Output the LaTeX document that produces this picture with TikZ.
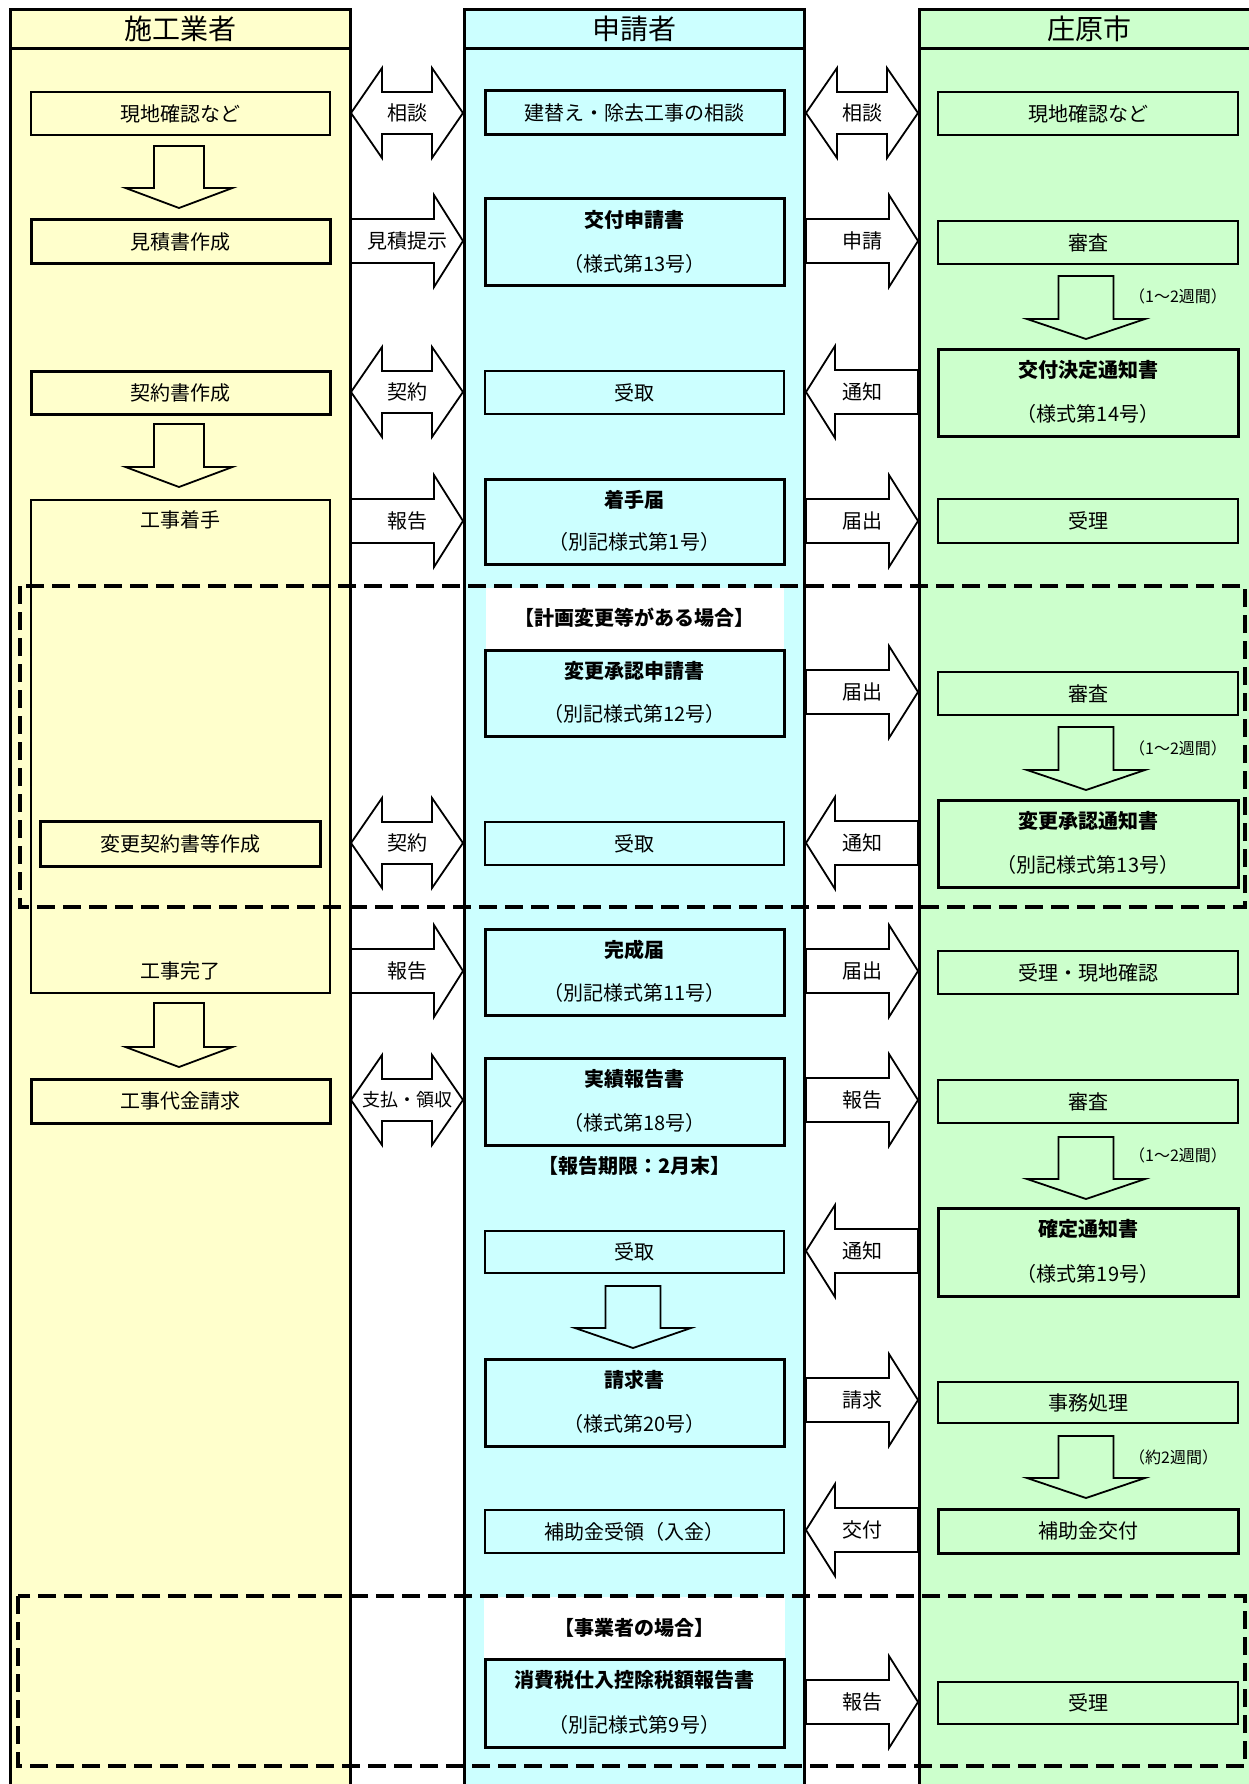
\documentclass[tikz,border=0pt]{standalone}
\usepackage{fontspec}
\setmainfont{Noto Sans CJK JP}
\usetikzlibrary{calc}
\definecolor{ly}{HTML}{FFFFCC}
\definecolor{lc}{HTML}{CCFFFF}
\definecolor{lg}{HTML}{CCFFCC}
\newcommand\fsN{\fontsize{20pt}{24pt}\selectfont}
\newcommand\fsM{\fontsize{18pt}{22pt}\selectfont}
\newcommand\fsH{\fontsize{28pt}{32pt}\selectfont}
\newcommand\fsS{\fontsize{16pt}{19pt}\selectfont}
\tikzset{
  lanebd/.style={line width=3pt},
  thinbox/.style={draw, line width=1.2pt, inner sep=0pt, font=\fsN},
  thickbox/.style={draw, line width=3pt, inner sep=0pt, font=\fsN},
  Lbox/.style={fill=ly, minimum width=299pt},
  Mbox/.style={fill=lc, minimum width=299pt},
  Rbox/.style={fill=lg, minimum width=300pt},
  blk/.style={draw, line width=1.8pt, fill=white, line join=miter},
  dnarr/.style={draw, line width=1.8pt, line join=miter},
  lbl/.style={font=\fsN, inner sep=0pt},
  blbl/.style={font=\fsN\bfseries, inner sep=0pt},
  dashbox/.style={line width=4.5pt, dash pattern=on 18pt off 8pt},
}
% right-pointing block arrow: name, xa, xb, y, label
\newcommand\rarrow[5]{%
  \draw[blk] (#2,#4-22) -- (#3-29,#4-22) -- (#3-29,#4-46) -- (#3,#4) -- (#3-29,#4+46) -- (#3-29,#4+22) -- (#2,#4+22) -- cycle;
  \node[lbl] (#1) at ({(#2+#3)/2},#4) {#5};}
% left-pointing block arrow
\newcommand\larrow[5]{%
  \draw[blk] (#3,#4-22) -- (#2+29,#4-22) -- (#2+29,#4-46) -- (#2,#4) -- (#2+29,#4+46) -- (#2+29,#4+22) -- (#3,#4+22) -- cycle;
  \node[lbl] (#1) at ({(#2+#3)/2},#4) {#5};}
% double block arrow
\newcommand\darrow[6]{%
  \draw[blk] (#2,#4) -- (#2+31,#4-45) -- (#2+31,#4-21) -- (#3-31,#4-21) -- (#3-31,#4-45) -- (#3,#4) -- (#3-31,#4+45) -- (#3-31,#4+21) -- (#2+31,#4+21) -- (#2+31,#4+45) -- cycle;
  \node[lbl,#6] (#1) at ({(#2+#3)/2},#4) {#5};}
% down arrow: xc, ytop, ytip, shaft half, head half
\newcommand\dnarrow[5]{%
  \draw[dnarr] (#1-#4,#2) -- (#1+#4,#2) -- (#1+#4,#3-20) -- (#1+#5,#3-20) -- (#1,#3) -- (#1-#5,#3-20) -- (#1-#4,#3-20) -- cycle;}
% two-line labels in a box
\newcommand\twoline[4]{%
  \node[blbl] (#1a) at ([yshift=-22.5pt]#2.north) {#3};
  \node[lbl] (#1b) at ([yshift=24pt]#2.south) {#4};}
\begin{document}
\begin{tikzpicture}[x=1pt,y=-1pt]
\useasboundingbox (0,0) rectangle (1249,1784);
\clip (0,0) rectangle (1249,1784);
\fill[white] (0,0) rectangle (1249,1784);
% lanes
\fill[ly] (10,10) rectangle (350,1800);
\fill[lc] (464,10) rectangle (804,1800);
\fill[lg] (919,10) rectangle (1259,1800);
\draw[lanebd] (10,1800) -- (10,10) -- (350,10) -- (350,1800);
\draw[lanebd] (10,49) -- (350,49);
\draw[lanebd] (464,1800) -- (464,10) -- (804,10) -- (804,1800);
\draw[lanebd] (464,49) -- (804,49);
\draw[lanebd] (919,1800) -- (919,10) -- (1259,10) -- (1259,1800);
\draw[lanebd] (919,49) -- (1259,49);
\node[font=\fsH, inner sep=0pt] (h1) at (180,29) {施工業者};
\node[font=\fsH, inner sep=0pt] (h2) at (634,29) {申請者};
\node[font=\fsH, inner sep=0pt] (h3) at (1089,29) {庄原市};
% white patches
\fill[white] (486,588) rectangle (784,650);
\fill[white] (484,1597) rectangle (785,1659);

% row 1
\node[thinbox, Lbox, minimum height=43pt] (l1) at (180.5,113.5) {現地確認など};
\node[thickbox, Mbox, minimum height=44pt] (m1) at (634.5,113) {建替え・除去工事の相談};
\node[thinbox, Rbox, minimum height=43pt] (r1) at (1088,113.5) {現地確認など};
\darrow{a1}{351}{463}{113}{相談}{}
\darrow{b1}{806}{918}{113}{相談}{}
\dnarrow{179}{146}{208}{25}{53.5}
% row 2
\node[thickbox, Lbox, minimum height=44pt] (l2) at (180.5,242) {見積書作成};
\node[thickbox, Mbox, minimum height=87pt] (m2) at (634.5,242.5) {};
\twoline{m2t}{m2}{交付申請書}{（様式第13号）}
\node[thinbox, Rbox, minimum height=43pt] (r2) at (1088,242.5) {審査};
\rarrow{a2}{351}{463}{241}{見積提示}
\rarrow{b2}{806}{918}{241}{申請}
\dnarrow{1086}{276}{339}{27.5}{59}
\node[font=\fsS, inner sep=0pt, anchor=west] (w1) at (1129,296) {（1～2週間）};
% row 3
\node[thickbox, Rbox, minimum height=87pt] (r3) at (1088,392.5) {};
\twoline{r3t}{r3}{交付決定通知書}{（様式第14号）}
\node[thickbox, Lbox, minimum height=43pt] (l3) at (180.5,392.5) {契約書作成};
\node[thinbox, Mbox, minimum height=43pt] (m3) at (634.5,392.5) {受取};
\darrow{a3}{351}{463}{392}{契約}{}
\larrow{b3}{806}{918}{392}{通知}
\dnarrow{179}{424}{487}{25}{53.5}
% row 4
\node[thinbox, Lbox, minimum height=493pt] (lt) at (180.5,746.5) {};
\node[lbl] (lt1) at (180.5,520) {工事着手};
\node[lbl] (lt2) at (180.5,971) {工事完了};
\node[thickbox, Mbox, minimum height=85pt] (m4) at (634.5,521.5) {};
\twoline{m4t}{m4}{着手届}{（別記様式第1号）}
\node[thinbox, Rbox, minimum height=44pt] (r4) at (1088,521) {受理};
\rarrow{a4}{351}{463}{521}{報告}
\rarrow{b4}{806}{918}{521}{届出}
% row 5
\node[blbl] (n5) at (634.5,618) {【計画変更等がある場合】};
\node[thickbox, Mbox, minimum height=86pt] (m5) at (634.5,693) {};
\twoline{m5t}{m5}{変更承認申請書}{（別記様式第12号）}
\node[thinbox, Rbox, minimum height=43pt] (r5) at (1088,693.5) {審査};
\rarrow{b5}{806}{918}{692}{届出}
\dnarrow{1086}{727}{790}{27.5}{59}
\node[font=\fsS, inner sep=0pt, anchor=west] (w2) at (1129,748) {（1～2週間）};
% row 6
\node[thickbox, fill=ly, minimum width=280pt, minimum height=45pt] (l6) at (180,843.5) {変更契約書等作成};
\node[thinbox, Mbox, minimum height=43pt] (m6) at (634.5,843.5) {受取};
\node[thickbox, Rbox, minimum height=87pt] (r6) at (1088,843.5) {};
\twoline{r6t}{r6}{変更承認通知書}{（別記様式第13号）}
\darrow{a6}{351}{463}{843}{契約}{}
\larrow{b6}{806}{918}{843}{通知}
% row 7
\node[thickbox, Mbox, minimum height=86pt] (m7) at (634.5,972) {};
\twoline{m7t}{m7}{完成届}{（別記様式第11号）}
\node[thinbox, Rbox, minimum height=43pt] (r7) at (1088,972.5) {受理・現地確認};
\rarrow{a7}{351}{463}{971}{報告}
\rarrow{b7}{806}{918}{971}{届出}
\dnarrow{179}{1003}{1067}{25}{53.5}
% row 8
\node[thickbox, Lbox, minimum height=44pt] (l8) at (180.5,1101) {工事代金請求};
\node[thickbox, Mbox, minimum height=87pt] (m8) at (634.5,1101.5) {};
\twoline{m8t}{m8}{実績報告書}{（様式第18号）}
\node[blbl] (n8) at (634.5,1166) {【報告期限：2月末】};
\node[thinbox, Rbox, minimum height=43pt] (r8) at (1088,1101.5) {審査};
\darrow{a8}{351}{463}{1100}{支払・領収}{font=\fsM}
\rarrow{b8}{806}{918}{1100}{報告}
\dnarrow{1086}{1137}{1199}{27.5}{59}
\node[font=\fsS, inner sep=0pt, anchor=west] (w3) at (1129,1155) {（1～2週間）};
% row 9
\node[thinbox, Mbox, minimum height=42pt] (m9) at (634.5,1252) {受取};
\node[thickbox, Rbox, minimum height=88pt] (r9) at (1088,1252) {};
\twoline{r9t}{r9}{確定通知書}{（様式第19号）}
\larrow{b9}{806}{918}{1251}{通知}
\dnarrow{633}{1286}{1348}{27.5}{58}
% row 10
\node[thickbox, Mbox, minimum height=87pt] (m10) at (634.5,1402.5) {};
\twoline{m10t}{m10}{請求書}{（様式第20号）}
\node[thinbox, Rbox, minimum height=41pt] (r10) at (1088,1402.5) {事務処理};
\rarrow{b10}{806}{918}{1400}{請求}
\dnarrow{1086}{1436}{1498}{27.5}{59}
\node[font=\fsS, inner sep=0pt, anchor=west] (w4) at (1129,1457) {（約2週間）};
% row 11
\node[thinbox, Mbox, minimum height=43pt] (m11) at (634.5,1531.5) {補助金受領（入金）};
\node[thickbox, Rbox, minimum height=44pt] (r11) at (1088,1531) {補助金交付};
\larrow{b11}{806}{918}{1530}{交付}
% row 12
\node[blbl] (n12) at (634.5,1628) {【事業者の場合】};
\node[thickbox, Mbox, minimum height=88pt] (m12) at (634.5,1703) {};
\twoline{m12t}{m12}{消費税仕入控除税額報告書}{（別記様式第9号）}
\node[thinbox, Rbox, minimum height=42pt] (r12) at (1088,1703) {受理};
\rarrow{b12}{806}{918}{1702}{報告}
% dashed regions
\draw[dashbox] (20,586) rectangle (1245,907);
\draw[dashbox] (18,1596) rectangle (1245,1766);
\end{tikzpicture}
\end{document}
